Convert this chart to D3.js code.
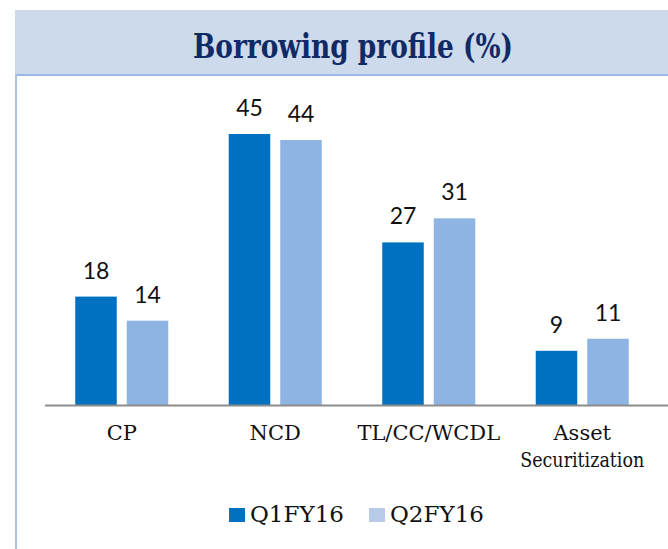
<!DOCTYPE html>
<html>
<head>
<meta charset="utf-8">
<script src="https://cdn.jsdelivr.net/npm/d3@7"></script>
<style>
  body { margin: 0; background: #fff; }
  svg { display: block; }
</style>
</head>
<body>
<div id="chart"></div>
<script>
const categories = ["CP", "NCD", "TL/CC/WCDL", "Asset Securitization"];
const seriesNames = ["Q1FY16", "Q2FY16"];
const q1Values = [18, 45, 27, 9];
const q2Values = [14, 44, 31, 11];
const colors = ["#0070c0", "#8eb4e3"];
const legendColors = ["#0070c0", "#b7cbe8"];

const width = 668, height = 549;
const svg = d3.select("#chart").append("svg")
    .attr("width", width)
    .attr("height", height);

// header band
svg.append("rect")
    .attr("x", 15).attr("y", 10)
    .attr("width", width - 15).attr("height", 65)
    .attr("fill", "#cddaeb");
svg.append("line")
    .attr("x1", 15).attr("x2", width)
    .attr("y1", 75).attr("y2", 75)
    .attr("stroke", "#9ab8e6").attr("stroke-width", 2);
svg.append("line")
    .attr("x1", 16).attr("x2", 16)
    .attr("y1", 74).attr("y2", height)
    .attr("stroke", "#a9c3ea").attr("stroke-width", 2);

svg.append("text")
    .attr("x", 193).attr("y", 58)
    .attr("textLength", 320)
    .attr("lengthAdjust", "spacingAndGlyphs")
    .attr("font-family", "'DejaVu Serif', 'Liberation Serif', serif")
    .attr("font-weight", "bold")
    .attr("font-size", 33)
    .attr("fill", "#102a66")
    .text("Borrowing profile (%)");

const baseY = 405;
const x = d3.scaleBand()
    .domain(categories)
    .range([45, 659]);
const xs = d3.scaleBand()
    .domain(seriesNames)
    .range([0, x.bandwidth()])
    .paddingInner(0.194)
    .paddingOuter(0.587);
const y = d3.scaleLinear()
    .domain([0, 45])
    .range([baseY, 134]);

const rows = categories.map((c, i) => ({
    cat: c,
    vals: [q1Values[i], q2Values[i]]
}));

const groups = svg.selectAll(".grp")
    .data(rows)
    .enter().append("g")
    .attr("transform", d => `translate(${x(d.cat)},0)`);

groups.selectAll("rect")
    .data(d => d.vals.map((v, j) => ({ name: seriesNames[j], v, j })))
    .enter().append("rect")
    .attr("x", d => xs(d.name))
    .attr("y", d => y(d.v))
    .attr("width", xs.bandwidth())
    .attr("height", d => baseY - y(d.v))
    .attr("fill", d => colors[d.j]);

groups.selectAll(".val")
    .data(d => d.vals.map((v, j) => ({ name: seriesNames[j], v, j })))
    .enter().append("text")
    .attr("x", d => xs(d.name) + xs.bandwidth() / 2)
    .attr("y", d => y(d.v) - 18)
    .attr("text-anchor", "middle")
    .attr("font-family", "Lato, 'Open Sans', sans-serif")
    .attr("font-size", 23)
    .attr("fill", "#111")
    .text(d => d.v);

// axis line
svg.append("line")
    .attr("x1", 45).attr("x2", width)
    .attr("y1", baseY + 0.5).attr("y2", baseY + 0.5)
    .attr("stroke", "#8c8c8c").attr("stroke-width", 2);

const catLabels = svg.selectAll(".cat")
    .data(categories)
    .enter().append("g");
catLabels.each(function (d) {
    const words = d === "Asset Securitization" ? ["Asset", "Securitization"] : [d];
    const g = d3.select(this);
    words.forEach((w, i) => {
        const t = g.append("text")
            .attr("text-anchor", "middle")
            .attr("font-family", "'DejaVu Serif', 'Liberation Serif', serif")
            .attr("font-size", 21)
            .attr("fill", "#111")
            .attr("x", x(d) + x.bandwidth() / 2)
            .attr("y", 440 + i * 27)
            .text(w);
        if (w === "Securitization") {
            t.attr("textLength", 124).attr("lengthAdjust", "spacingAndGlyphs");
        }
    });
});

// legend
const legendX = [229, 369];
seriesNames.forEach((n, i) => {
    const g = svg.append("g").attr("transform", `translate(${legendX[i]},508)`);
    g.append("rect")
        .attr("width", 16).attr("height", 14)
        .attr("fill", legendColors[i]);
    g.append("text")
        .attr("x", 21).attr("y", 14)
        .attr("font-family", "'DejaVu Serif', 'Liberation Serif', serif")
        .attr("font-size", 23)
        .attr("fill", "#111")
        .text(n);
});
</script>
</body>
</html>
